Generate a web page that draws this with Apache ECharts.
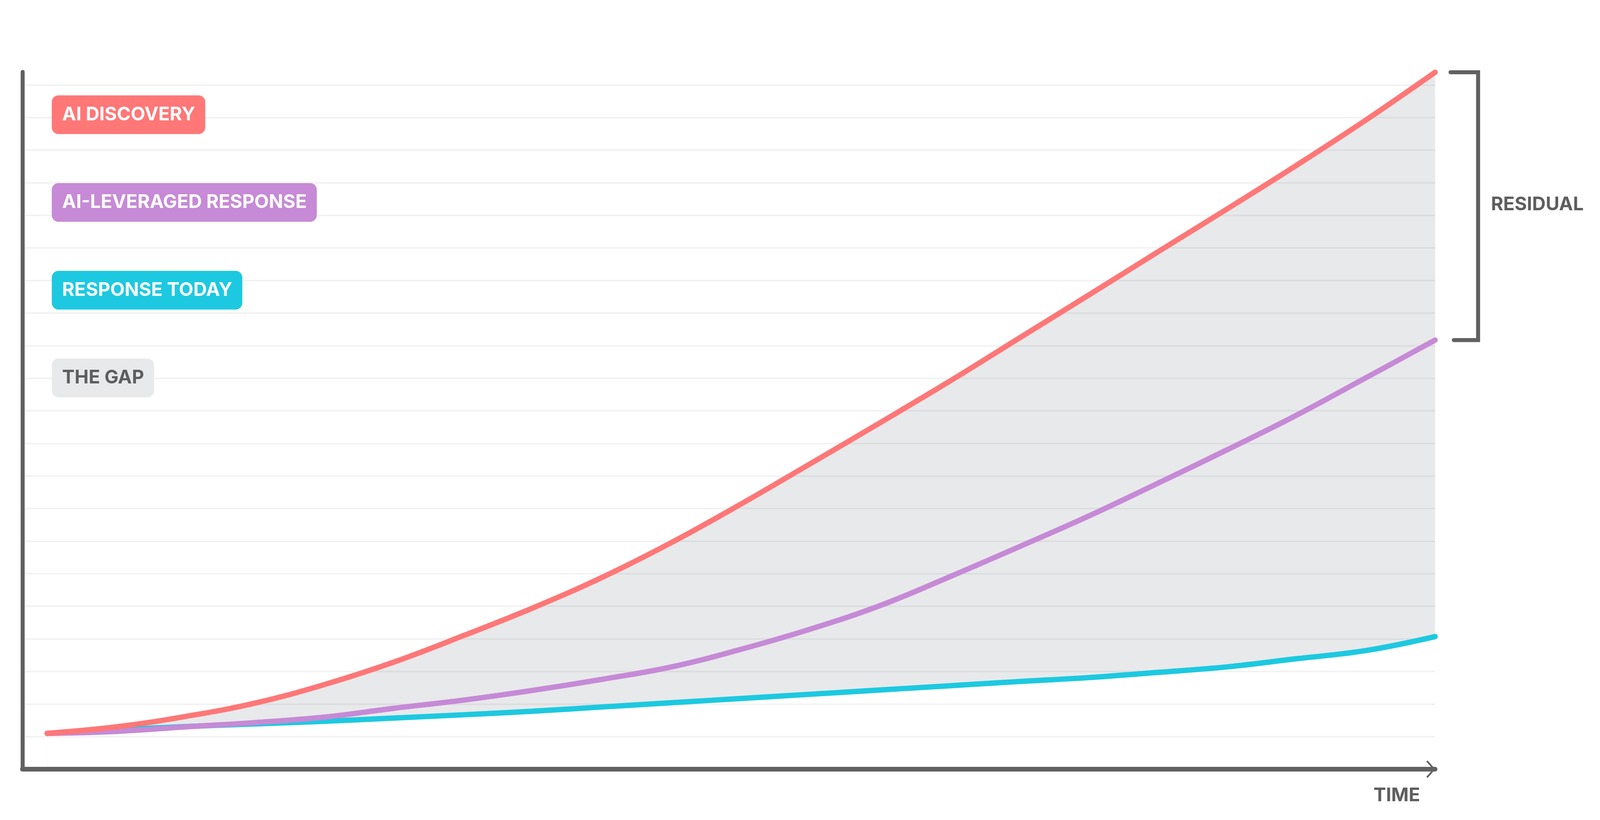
<!DOCTYPE html>
<html>
<head>
<meta charset="utf-8">
<script src="https://cdn.jsdelivr.net/npm/echarts@6/dist/echarts.min.js"></script>
<style>
  html, body { margin: 0; padding: 0; background: #fff; overflow: hidden; }
  #chart { width: 100vw; height: 100vh; }
</style>
</head>
<body>
<div id="chart"></div>
<script>
// time goes 0..100 along the x axis, values in gridline units
var timeSteps = [0, 5, 10, 15, 20, 25, 30, 35, 40, 45, 50, 55, 60, 65, 70, 75, 80, 85, 90, 95, 100];
var aiDiscovery = [1.1, 1.30, 1.62, 2.03, 2.60, 3.29, 4.10, 4.95, 5.89, 6.96, 8.14, 9.38, 10.63, 11.90, 13.22, 14.54, 15.87, 17.19, 18.53, 19.92, 21.39];
var aiLeveraged = [1.1, 1.16, 1.30, 1.43, 1.60, 1.87, 2.12, 2.42, 2.76, 3.14, 3.68, 4.30, 5.02, 5.90, 6.82, 7.76, 8.77, 9.80, 10.86, 12.01, 13.17];
var responseToday = [1.1, 1.21, 1.31, 1.39, 1.47, 1.57, 1.67, 1.78, 1.91, 2.04, 2.17, 2.30, 2.43, 2.56, 2.69, 2.81, 2.97, 3.14, 3.39, 3.64, 4.07];

var legendNames = ['AI DISCOVERY', 'AI-LEVERAGED RESPONSE', 'RESPONSE TODAY', 'THE GAP'];
var legendColors = ['#FF7777', '#C68AD6', '#1DC9E0', '#E8E9EB'];
var legendTextColors = ['#ffffff', '#ffffff', '#ffffff', '#5E5E5E'];

var FONT = 'Inter, "Open Sans", sans-serif';
var GREY = '#616161';
var TEXT_GREY = '#5E5E5E';
var SHADE = '#E8E9EB';

// layout was measured on a 4784x2098 picture, scale it to the real window
var S = window.innerWidth / 4784;
var SY = window.innerHeight / 2098;
function px(v) { return v * S; }
function py(v) { return v * SY; }

function pairs(ys) {
    return timeSteps.map(function (t, i) { return [t, ys[i]]; });
}

function lineSeries(name, color, values) {
    return {
        name: name,
        type: 'line',
        smooth: 0.4,
        symbol: 'none',
        clip: false,
        color: color,
        lineStyle: { width: px(16), color: color, cap: 'round' },
        data: pairs(values)
    };
}

var myChart = echarts.init(document.getElementById('chart'));

var option = {
    backgroundColor: '#ffffff',
    animation: false,
    grid: { left: px(67), right: px(493), top: py(184), bottom: py(130) },
    legend: {
        orient: 'vertical',
        left: px(149),
        top: py(244),
        padding: 0,
        itemGap: py(125.5),
        itemWidth: 0,
        itemHeight: py(10),
        icon: 'none',
        selectedMode: false,
        data: legendNames.map(function (n, i) {
            return {
                name: n,
                textStyle: {
                    color: legendTextColors[i],
                    backgroundColor: legendColors[i],
                    borderRadius: px(20),
                    padding: [py(21), px(30), py(22), px(31)],
                    fontFamily: FONT,
                    fontWeight: 700,
                    fontSize: px(56),
                    lineHeight: py(56)
                }
            };
        })
    },
    xAxis: {
        type: 'value',
        min: -1.78,
        max: 100,
        axisLine: {
            onZero: false,
            lineStyle: { color: GREY, width: py(12) },
            symbol: ['none', 'path://M0,21L24,0L48,21L45,25L24,6L3,25Z'],
            symbolSize: [py(52), px(27)],
            symbolOffset: [0, -px(13)]
        },
        axisTick: { show: false },
        axisLabel: { show: false },
        splitLine: { show: false }
    },
    yAxis: {
        type: 'value',
        min: 0,
        max: 21.4,
        interval: 1,
        axisLine: {
            show: true,
            onZero: false,
            lineStyle: { color: GREY, width: px(12), cap: 'round' }
        },
        axisTick: { show: false },
        axisLabel: { show: false },
        splitLine: {
            show: true,
            showMinLine: false,
            showMaxLine: false,
            lineStyle: { color: 'rgba(0,0,0,0.05)', width: py(4) }
        }
    },
    series: [
        {
            // grey fill under the discovery curve ...
            name: 'THE GAP',
            type: 'line',
            smooth: 0.4,
            symbol: 'none',
            silent: true,
            z: -1,
            color: SHADE,
            lineStyle: { width: 0, opacity: 0 },
            areaStyle: { color: SHADE, opacity: 1 },
            data: pairs(aiDiscovery)
        },
        {
            // ... cut back to white below today's response
            name: 'below',
            type: 'line',
            smooth: 0.4,
            symbol: 'none',
            silent: true,
            z: -1,
            color: '#ffffff',
            lineStyle: { width: 0, opacity: 0 },
            areaStyle: { color: '#ffffff', opacity: 1 },
            data: pairs(responseToday)
        },
        lineSeries('RESPONSE TODAY', '#1DC9E0', responseToday),
        lineSeries('AI-LEVERAGED RESPONSE', '#C68AD6', aiLeveraged),
        lineSeries('AI DISCOVERY', '#FF7777', aiDiscovery)
    ]
};
myChart.setOption(option);

// bracket between the two end values and the axis caption, placed from the data
var last = timeSteps.length - 1;
var pTop = myChart.convertToPixel({ gridIndex: 0 }, [timeSteps[last], aiDiscovery[last]]);
var pBot = myChart.convertToPixel({ gridIndex: 0 }, [timeSteps[last], aiLeveraged[last]]);
var pAxis = myChart.convertToPixel({ gridIndex: 0 }, [timeSteps[last], 0]);
var bx = pTop[0];
var captionFont = '700 ' + px(56) + 'px ' + FONT;

myChart.setOption({
    graphic: [
        {
            type: 'polyline',
            shape: {
                points: [
                    [bx + px(46), pTop[1]],
                    [bx + px(128.5), pTop[1]],
                    [bx + px(128.5), pBot[1]],
                    [bx + px(56), pBot[1]]
                ]
            },
            style: { stroke: GREY, lineWidth: px(12), lineCap: 'round', lineJoin: 'miter', fill: null }
        },
        {
            type: 'text',
            x: bx + px(167),
            y: (pTop[1] + pBot[1]) / 2 - py(4),
            style: { text: 'RESIDUAL', fill: TEXT_GREY, font: captionFont, verticalAlign: 'middle', align: 'left' }
        },
        {
            type: 'text',
            x: pAxis[0] - px(45),
            y: pAxis[1] + py(68),
            style: { text: 'TIME', fill: TEXT_GREY, font: captionFont, verticalAlign: 'middle', align: 'right' }
        }
    ]
});
</script>
</body>
</html>
